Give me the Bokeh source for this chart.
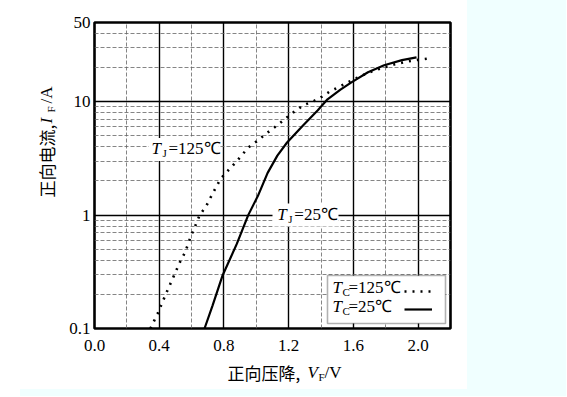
import math
from bokeh.plotting import figure
from bokeh.models import (FixedTicker, CustomJSTickFormatter, Label, BoxAnnotation,
                          Legend, LegendItem, Range1d, Spacer)
from bokeh.layouts import row, column
from bokeh.embed import file_html
from bokeh.resources import INLINE

# ---------------- data ----------------
# T = 25 C (solid)
vf_25 = [0.68, 0.73, 0.79, 0.88, 0.95, 1.01, 1.07, 1.13, 1.19, 1.29, 1.38, 1.44,
         1.52, 1.59, 1.69, 1.79, 1.90, 1.99]
if_25 = [0.10, 0.16, 0.29, 0.56, 1.0, 1.48, 2.36, 3.35, 4.37, 6.2, 8.4, 10.5,
         12.8, 14.9, 18.2, 21.0, 23.3, 24.6]
# T = 125 C (dotted)
vf_125 = [0.345, 0.39, 0.44, 0.49, 0.53, 0.56, 0.59, 0.65, 0.69, 0.73, 0.78, 0.88,
          0.95, 1.00, 1.07, 1.13, 1.21, 1.29, 1.38, 1.45, 1.54, 1.62, 1.69, 1.77,
          1.85, 1.93, 2.00, 2.08]
if_125 = [0.10, 0.135, 0.20, 0.29, 0.39, 0.47, 0.62, 1.0, 1.2, 1.55, 2.1, 3.0,
          3.94, 4.45, 5.35, 6.2, 7.7, 9.3, 10.5, 12.2, 14.2, 16.2, 18.0, 19.7,
          21.3, 22.6, 23.4, 24.2]

x_ticks = [0.0, 0.4, 0.8, 1.2, 1.6, 2.0]
y_ticks = [0.1, 1, 10, 50]
x_major_grid = [0.4, 0.8, 1.2, 1.6, 2.0]
x_minor_grid = [0.2, 0.6, 1.0, 1.4, 1.8]
y_major_grid = [1, 10]
y_minor_grid = [0.2, 0.3, 0.4, 0.5, 0.6, 0.7, 0.8, 0.9,
                2, 3, 4, 5, 6, 7, 8, 9, 20, 30, 40]

SERIF = "Liberation Serif"
CJK = "Noto Sans CJK SC"
CYAN = "#f0ffff"

p = figure(width=407, height=360, x_range=Range1d(0, 2.2), y_range=Range1d(0.1, 50),
           y_axis_type="log", output_backend="svg", toolbar_location=None,
           min_border_left=34, min_border_right=17, min_border_top=22, min_border_bottom=32)
p.background_fill_color = "white"
p.border_fill_color = "white"
p.outline_line_color = "black"
p.outline_line_width = 2.6

for ax in p.axis:
    ax.axis_line_color = None
    ax.major_tick_line_color = None
    ax.minor_tick_line_color = None
    ax.major_tick_out = 0
    ax.major_tick_in = 0
    ax.minor_tick_out = 0
    ax.major_label_text_font = SERIF
    ax.major_label_text_font_size = "17px"
    ax.major_label_text_color = "black"

p.xaxis.ticker = FixedTicker(ticks=x_ticks)
p.xaxis.formatter = CustomJSTickFormatter(code="return tick.toFixed(1);")
p.xaxis.major_label_standoff = 11
p.yaxis.ticker = FixedTicker(ticks=y_ticks)
p.yaxis.formatter = CustomJSTickFormatter(code="return String(tick);")
p.yaxis.major_label_standoff = 4

p.xgrid.ticker = FixedTicker(ticks=x_major_grid, minor_ticks=x_minor_grid)
p.ygrid.ticker = FixedTicker(ticks=y_major_grid, minor_ticks=y_minor_grid)
for g in (p.xgrid, p.ygrid):
    g.grid_line_color = "black"
    g.grid_line_width = 1.4
    g.minor_grid_line_color = "#666666"
    g.minor_grid_line_width = 0.8
    g.minor_grid_line_dash = "4 2"

r25 = p.line(vf_25, if_25, line_color="black", line_width=2.2)
r125 = p.line(vf_125, if_125, line_color="black", line_width=2.6, line_dash="2 6")


def rich(fig, x, y, parts, units="data", angle=0.0):
    for text, dx, dy, size, style, font in parts:
        fig.add_layout(Label(x=x, y=y, x_units=units, y_units=units, x_offset=dx, y_offset=dy,
                             text=text, angle=angle, text_font=font, text_font_size=size,
                             text_font_style=style, text_color="black",
                             text_baseline="alphabetic", text_align="left"))


# white patches behind the in-plot curve labels
p.add_layout(Label(x=0.335, y=3.8, text="\u2003" * 4, text_font_size="16px",
                   text_baseline="middle", background_fill_color="white", padding=3))
p.add_layout(Label(x=1.10, y=1, text="\u2003" * 4, text_font_size="15px",
                   text_baseline="middle", background_fill_color="white", padding=3))

rich(p, 0.352, 3.8, [("T", 0, 1, "17px", "italic", SERIF),
                     ("J", 11, -4, "11px", "normal", SERIF),
                     ("=125\u2103", 17, 1, "17px", "normal", SERIF)])
rich(p, 1.13, 1, [("T", 0, 1, "17px", "italic", SERIF),
                  ("J", 11, -4, "11px", "normal", SERIF),
                  ("=25\u2103", 17, 1, "17px", "normal", SERIF)])

# legend box
p.add_layout(BoxAnnotation(left=233, right=351, bottom=5, top=53,
                           left_units="screen", right_units="screen",
                           top_units="screen", bottom_units="screen",
                           fill_color="white", fill_alpha=1.0,
                           line_color="black", line_width=1.6))
legend = Legend(items=[LegendItem(label=" ", renderers=[r125]),
                       LegendItem(label=" ", renderers=[r25])],
                location=(310, 10), glyph_width=28, glyph_height=18, label_height=18,
                label_width=0, label_standoff=0, spacing=0, padding=0, margin=0,
                border_line_color=None, background_fill_alpha=0,
                label_text_font_size="1px")
p.add_layout(legend)
rich(p, 238, 41, [("T", 0, 0, "17px", "italic", SERIF),
                  ("C", 10, -4, "11px", "normal", SERIF),
                  ("=125\u2103", 16, 0, "17px", "normal", SERIF)], units="screen")
rich(p, 238, 22, [("T", 0, 0, "17px", "italic", SERIF),
                  ("C", 10, -4, "11px", "normal", SERIF),
                  ("=25\u2103", 16, 0, "17px", "normal", SERIF)], units="screen")


def blank(w, h):
    f = figure(width=w, height=h, x_range=Range1d(0, 1), y_range=Range1d(0, 1),
               x_axis_type=None, y_axis_type=None, output_backend="svg",
               toolbar_location=None, min_border=0)
    f.outline_line_color = None
    f.background_fill_color = "white"
    f.border_fill_color = "white"
    return f


# axis titles drawn in their own panels
xt = blank(407, 29)
rich(xt, 133, 17, [("正向压降,", 0, 0, "17px", "normal", CJK),
                   ("V", 80, 0, "17px", "italic", SERIF),
                   ("F", 91, -4, "11px", "normal", SERIF),
                   ("/V", 97, 0, "17px", "normal", SERIF)], units="screen")

yt = blank(60, 389)
rich(yt, 46, 192, [("正向电流,", 0, 0, "17px", "normal", CJK),
                   ("I", 0, 74, "17px", "italic", SERIF),
                   ("F", 4, 85, "11px", "normal", SERIF),
                   ("/A", 0, 94, "17px", "normal", SERIF)], units="screen", angle=math.pi / 2)

side = Spacer(width=99, height=389, styles={"background-color": CYAN})
bottom = row(Spacer(width=20, height=7),
             Spacer(width=546, height=7, styles={"background-color": CYAN}))
page = column(row(yt, column(p, xt), side), bottom)

open("out.html", "w").write(file_html(page, INLINE))
